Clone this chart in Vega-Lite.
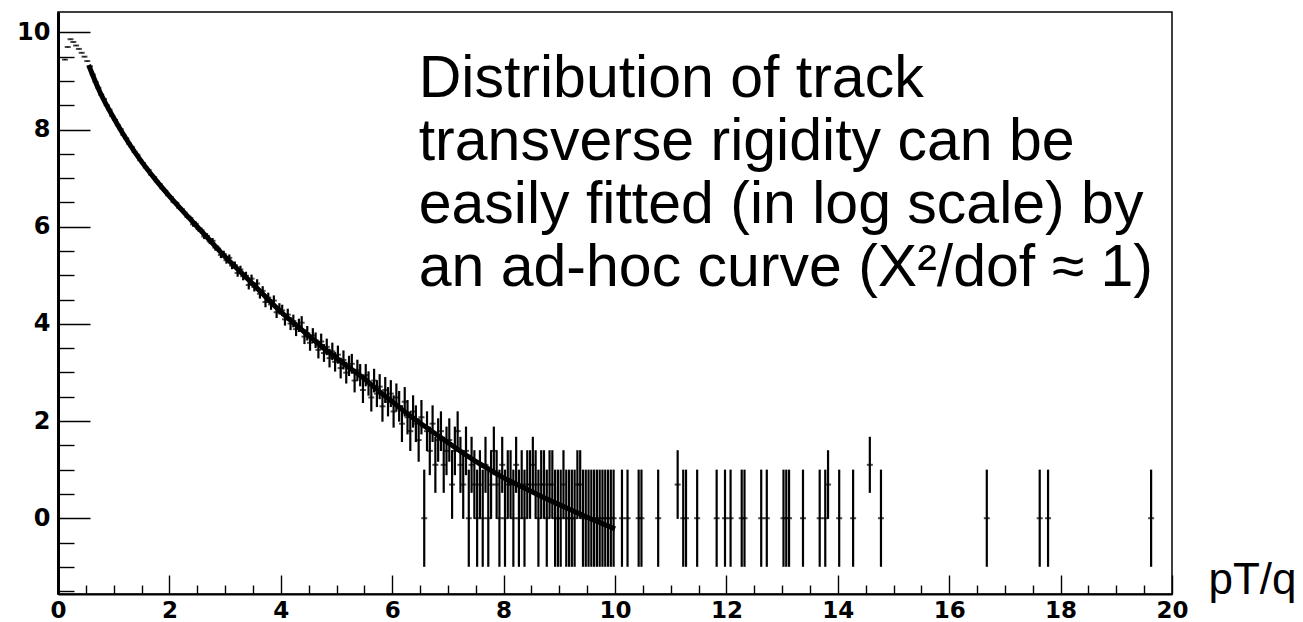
{
  "$schema": "https://vega.github.io/schema/vega-lite/v6.json",
  "width": 1114,
  "height": 582,
  "autosize": {"type": "none"},
  "padding": {"left": 58, "top": 12, "right": 131, "bottom": 28},
  "background": "white",
  "config": {
    "view": {"stroke": "black", "strokeWidth": 1.5},
    "font": "Liberation Sans",
    "axis": {"grid": false, "tickColor": "black", "tickWidth": 1.4, "domainColor": "black", "labelColor": "black"}
  },
  "resolve": {"axis": {"x": "independent", "y": "independent"}},
  "datasets": {
    "hist": [
      {"x":0.125,"y":9.44,"e":0.009},{"x":0.175,"y":9.70,"e":0.008},{"x":0.225,"y":9.86,"e":0.007},
      {"x":0.275,"y":9.80,"e":0.007},{"x":0.325,"y":9.73,"e":0.008},{"x":0.375,"y":9.66,"e":0.008},
      {"x":0.425,"y":9.58,"e":0.008},{"x":0.475,"y":9.50,"e":0.009},{"x":0.525,"y":9.41,"e":0.009},
      {"x":0.575,"y":9.30,"e":0.010},{"x":0.625,"y":9.13,"e":0.010},{"x":0.675,"y":8.98,"e":0.011},
      {"x":0.725,"y":8.86,"e":0.012},{"x":0.775,"y":8.72,"e":0.013},{"x":0.825,"y":8.63,"e":0.013},
      {"x":0.875,"y":8.50,"e":0.014},{"x":0.925,"y":8.41,"e":0.015},{"x":0.975,"y":8.28,"e":0.016},
      {"x":1.025,"y":8.20,"e":0.017},{"x":1.075,"y":8.09,"e":0.018},{"x":1.125,"y":8.01,"e":0.018},
      {"x":1.175,"y":7.89,"e":0.019},{"x":1.225,"y":7.82,"e":0.020},{"x":1.275,"y":7.71,"e":0.021},
      {"x":1.325,"y":7.64,"e":0.022},{"x":1.375,"y":7.54,"e":0.023},{"x":1.425,"y":7.48,"e":0.024},
      {"x":1.475,"y":7.37,"e":0.025},{"x":1.525,"y":7.31,"e":0.026},{"x":1.575,"y":7.22,"e":0.027},
      {"x":1.625,"y":7.17,"e":0.028},{"x":1.675,"y":7.07,"e":0.029},{"x":1.725,"y":7.02,"e":0.030},
      {"x":1.775,"y":6.93,"e":0.031},{"x":1.825,"y":6.88,"e":0.032},{"x":1.875,"y":6.79,"e":0.034},
      {"x":1.925,"y":6.74,"e":0.034},{"x":1.975,"y":6.65,"e":0.036},{"x":2.025,"y":6.61,"e":0.037},
      {"x":2.075,"y":6.51,"e":0.039},{"x":2.125,"y":6.49,"e":0.039},{"x":2.175,"y":6.39,"e":0.041},
      {"x":2.225,"y":6.36,"e":0.042},{"x":2.275,"y":6.29,"e":0.043},{"x":2.325,"y":6.20,"e":0.045},
      {"x":2.375,"y":6.18,"e":0.046},{"x":2.425,"y":6.05,"e":0.049},{"x":2.475,"y":6.06,"e":0.048},
      {"x":2.525,"y":5.95,"e":0.051},{"x":2.575,"y":5.93,"e":0.052},{"x":2.625,"y":5.80,"e":0.055},
      {"x":2.675,"y":5.81,"e":0.055},{"x":2.725,"y":5.70,"e":0.058},{"x":2.775,"y":5.71,"e":0.058},
      {"x":2.825,"y":5.57,"e":0.062},{"x":2.875,"y":5.55,"e":0.062},{"x":2.925,"y":5.42,"e":0.067},
      {"x":2.975,"y":5.44,"e":0.066},{"x":3.025,"y":5.31,"e":0.070},{"x":3.075,"y":5.36,"e":0.069},
      {"x":3.125,"y":5.20,"e":0.074},{"x":3.175,"y":5.21,"e":0.074},{"x":3.225,"y":5.05,"e":0.080},
      {"x":3.275,"y":5.12,"e":0.077},{"x":3.325,"y":4.98,"e":0.083},{"x":3.375,"y":4.99,"e":0.083},
      {"x":3.425,"y":4.80,"e":0.091},{"x":3.475,"y":4.93,"e":0.085},{"x":3.525,"y":4.76,"e":0.093},
      {"x":3.575,"y":4.83,"e":0.089},{"x":3.625,"y":4.62,"e":0.099},{"x":3.675,"y":4.68,"e":0.096},
      {"x":3.725,"y":4.45,"e":0.108},{"x":3.775,"y":4.54,"e":0.103},{"x":3.825,"y":4.40,"e":0.111},
      {"x":3.875,"y":4.48,"e":0.106},{"x":3.925,"y":4.24,"e":0.120},{"x":3.975,"y":4.31,"e":0.116},
      {"x":4.025,"y":4.277,"e":0.118},{"x":4.075,"y":4.094,"e":0.129},{"x":4.125,"y":4.190,"e":0.123},
      {"x":4.175,"y":4.007,"e":0.135},{"x":4.225,"y":4.060,"e":0.131},{"x":4.275,"y":3.892,"e":0.143},
      {"x":4.325,"y":3.970,"e":0.137},{"x":4.375,"y":4.025,"e":0.134},{"x":4.425,"y":3.738,"e":0.154},
      {"x":4.475,"y":3.807,"e":0.149},{"x":4.525,"y":3.611,"e":0.164},{"x":4.575,"y":3.761,"e":0.152},
      {"x":4.625,"y":3.664,"e":0.160},{"x":4.675,"y":3.466,"e":0.177},{"x":4.725,"y":3.638,"e":0.162},
      {"x":4.775,"y":3.401,"e":0.183},{"x":4.825,"y":3.526,"e":0.171},{"x":4.875,"y":3.296,"e":0.192},
      {"x":4.925,"y":3.434,"e":0.180},{"x":4.975,"y":3.219,"e":0.200},{"x":5.025,"y":3.367,"e":0.186},
      {"x":5.075,"y":3.091,"e":0.213},{"x":5.125,"y":3.258,"e":0.196},{"x":5.175,"y":2.996,"e":0.224},
      {"x":5.225,"y":3.135,"e":0.209},{"x":5.275,"y":3.178,"e":0.204},{"x":5.325,"y":2.833,"e":0.243},
      {"x":5.375,"y":3.045,"e":0.218},{"x":5.425,"y":2.944,"e":0.229},{"x":5.475,"y":2.639,"e":0.267},
      {"x":5.525,"y":2.944,"e":0.229},{"x":5.575,"y":2.773,"e":0.250},{"x":5.625,"y":2.485,"e":0.289},
      {"x":5.675,"y":2.833,"e":0.243},{"x":5.725,"y":2.565,"e":0.277},{"x":5.775,"y":2.708,"e":0.258},
      {"x":5.825,"y":2.303,"e":0.316},{"x":5.875,"y":2.639,"e":0.267},{"x":5.925,"y":2.398,"e":0.302},
      {"x":5.975,"y":2.565,"e":0.277},{"x":6.025,"y":2.197,"e":0.333},{"x":6.075,"y":2.485,"e":0.289},
      {"x":6.125,"y":2.303,"e":0.316},{"x":6.175,"y":1.946,"e":0.378},{"x":6.225,"y":2.398,"e":0.302},
      {"x":6.275,"y":2.079,"e":0.354},{"x":6.325,"y":1.792,"e":0.408},{"x":6.375,"y":2.197,"e":0.333},
      {"x":6.425,"y":1.946,"e":0.378},{"x":6.475,"y":1.609,"e":0.447},{"x":6.525,"y":2.079,"e":0.354},
      {"x":6.575,"y":0,"e":1},{"x":6.625,"y":1.792,"e":0.408},{"x":6.675,"y":1.386,"e":0.5},
      {"x":6.725,"y":1.946,"e":0.378},{"x":6.775,"y":1.099,"e":0.577},{"x":6.825,"y":1.609,"e":0.447},
      {"x":6.875,"y":1.792,"e":0.408},{"x":6.925,"y":1.099,"e":0.577},{"x":6.975,"y":1.386,"e":0.5},
      {"x":7.025,"y":1.609,"e":0.447},{"x":7.075,"y":0.693,"e":0.707},{"x":7.125,"y":1.386,"e":0.5},
      {"x":7.175,"y":1.792,"e":0.408},{"x":7.225,"y":1.099,"e":0.577},{"x":7.275,"y":0.693,"e":0.707},
      {"x":7.325,"y":1.386,"e":0.5},{"x":7.375,"y":0,"e":1},{"x":7.425,"y":1.099,"e":0.577},
      {"x":7.475,"y":0.693,"e":0.707},{"x":7.525,"y":0,"e":1},{"x":7.575,"y":0.693,"e":0.707},
      {"x":7.625,"y":0,"e":1},{"x":7.675,"y":1.099,"e":0.577},{"x":7.725,"y":0,"e":1},
      {"x":7.775,"y":0.693,"e":0.707},{"x":7.825,"y":1.386,"e":0.5},{"x":7.875,"y":0.693,"e":0.707},
      {"x":7.925,"y":0,"e":1},{"x":7.975,"y":1.099,"e":0.577},{"x":8.025,"y":0,"e":1},
      {"x":8.075,"y":0.693,"e":0.707},{"x":8.125,"y":0.693,"e":0.707},{"x":8.175,"y":0,"e":1},
      {"x":8.225,"y":1.099,"e":0.577},{"x":8.275,"y":0,"e":1},{"x":8.325,"y":0.693,"e":0.707},
      {"x":8.375,"y":0,"e":1},{"x":8.425,"y":0.693,"e":0.707},{"x":8.475,"y":0.693,"e":0.707},
      {"x":8.525,"y":1.099,"e":0.577},{"x":8.575,"y":0.693,"e":0.707},{"x":8.625,"y":0,"e":1},
      {"x":8.675,"y":0.693,"e":0.707},{"x":8.725,"y":0.693,"e":0.707},{"x":8.775,"y":0,"e":1},
      {"x":8.825,"y":0.693,"e":0.707},{"x":8.875,"y":0.693,"e":0.707},{"x":8.925,"y":0,"e":1},
      {"x":8.975,"y":0,"e":1},{"x":9.025,"y":0,"e":1},{"x":9.075,"y":0.693,"e":0.707},
      {"x":9.125,"y":0,"e":1},{"x":9.175,"y":0,"e":1},{"x":9.225,"y":0,"e":1},
      {"x":9.275,"y":0,"e":1},{"x":9.325,"y":0.693,"e":0.707},{"x":9.375,"y":0.693,"e":0.707},
      {"x":9.425,"y":0,"e":1},{"x":9.475,"y":0,"e":1},{"x":9.525,"y":0,"e":1},
      {"x":9.575,"y":0,"e":1},{"x":9.625,"y":0,"e":1},{"x":9.675,"y":0,"e":1},
      {"x":9.725,"y":0,"e":1},{"x":9.775,"y":0,"e":1},{"x":9.825,"y":0,"e":1},
      {"x":9.875,"y":0,"e":1},{"x":9.925,"y":0,"e":1},{"x":9.975,"y":0,"e":1},
      {"x":10.125,"y":0,"e":1},{"x":10.225,"y":0,"e":1},{"x":10.425,"y":0,"e":1},
      {"x":10.475,"y":0,"e":1},{"x":10.775,"y":0,"e":1},{"x":11.125,"y":0.693,"e":0.707},
      {"x":11.225,"y":0,"e":1},{"x":11.275,"y":0,"e":1},{"x":11.475,"y":0,"e":1},
      {"x":11.825,"y":0,"e":1},{"x":11.975,"y":0,"e":1},{"x":12.075,"y":0,"e":1},
      {"x":12.275,"y":0,"e":1},{"x":12.325,"y":0,"e":1},{"x":12.625,"y":0,"e":1},
      {"x":12.725,"y":0,"e":1},{"x":13.025,"y":0,"e":1},{"x":13.075,"y":0,"e":1},
      {"x":13.125,"y":0,"e":1},{"x":13.375,"y":0,"e":1},{"x":13.675,"y":0,"e":1},
      {"x":13.775,"y":0,"e":1},{"x":13.825,"y":0.693,"e":0.707},{"x":14.025,"y":0,"e":1},
      {"x":14.275,"y":0,"e":1},{"x":14.575,"y":1.099,"e":0.577},{"x":14.775,"y":0,"e":1},
      {"x":16.675,"y":0,"e":1},{"x":17.625,"y":0,"e":1},{"x":17.775,"y":0,"e":1},
      {"x":19.625,"y":0,"e":1}
    ],
    "fit": [
      {"x":0.55,"y":9.33},{"x":0.75,"y":8.78},{"x":1.0,"y":8.24},{"x":1.25,"y":7.76},
      {"x":1.5,"y":7.34},{"x":1.75,"y":6.97},{"x":2.0,"y":6.63},{"x":2.25,"y":6.31},
      {"x":2.5,"y":6.0},{"x":2.75,"y":5.69},{"x":3.0,"y":5.38},{"x":3.25,"y":5.1},
      {"x":3.5,"y":4.82},{"x":3.75,"y":4.53},{"x":4.0,"y":4.25},{"x":4.25,"y":4.0},
      {"x":4.5,"y":3.76},{"x":4.75,"y":3.52},{"x":5.0,"y":3.3},{"x":5.25,"y":3.08},
      {"x":5.5,"y":2.87},{"x":5.75,"y":2.63},{"x":6.0,"y":2.4},{"x":6.25,"y":2.17},
      {"x":6.5,"y":1.96},{"x":6.75,"y":1.76},{"x":7.0,"y":1.56},{"x":7.25,"y":1.36},
      {"x":7.5,"y":1.17},{"x":7.75,"y":1.0},{"x":8.0,"y":0.83},{"x":8.25,"y":0.69},
      {"x":8.5,"y":0.55},{"x":8.75,"y":0.41},{"x":9.0,"y":0.28},{"x":9.25,"y":0.15},
      {"x":9.5,"y":0.02},{"x":9.75,"y":-0.1},{"x":10.0,"y":-0.22}
    ]
  },
  "layer": [
    {
      "data": {"name": "hist"},
      "mark": {"type": "errorbar", "ticks": false, "thickness": 2.2, "color": "black"},
      "encoding": {
        "x": {
          "field": "x", "type": "quantitative",
          "scale": {"domain": [0, 20], "nice": false, "zero": false},
          "axis": {
            "orient": "bottom",
            "title": "pT/q",
            "titleX": 1150, "titleY": -1, "titleAlign": "left", "titleBaseline": "alphabetic", "titleAngle": 0,
            "titleFont": "Liberation Sans", "titleFontSize": 44, "titleFontWeight": "normal", "titleColor": "black",
            "values": [0,2,4,6,8,10,12,14,16,18,20],
            "format": "d",
            "labelFont": "DejaVu Sans", "labelFontWeight": "bold", "labelFontSize": 23,
            "labelFlush": false, "labelOverlap": false, "labelBaseline": "alphabetic",
            "ticks": false, "labelPadding": 23,
            "domainWidth": 2.2
          }
        },
        "y": {
          "field": "y", "type": "quantitative",
          "scale": {"domain": [-1.56, 10.42], "nice": false, "zero": false},
          "axis": {
            "orient": "left",
            "title": null,
            "values": [0,2,4,6,8,10],
            "format": "d",
            "labelFont": "DejaVu Sans", "labelFontWeight": "bold", "labelFontSize": 24,
            "labelFlush": false, "labelOverlap": false,
            "ticks": false, "labelPadding": 8,
            "domainWidth": 3
          }
        },
        "yError": {"field": "e"}
      }
    },
    {
      "data": {"name": "hist"},
      "mark": {"type": "tick", "orient": "horizontal", "size": 6, "thickness": 2, "color": "black"},
      "encoding": {
        "x": {
          "field": "x", "type": "quantitative",
          "axis": {"orient": "bottom", "title": null, "values": [0,2,4,6,8,10,12,14,16,18,20], "labels": false, "domain": false, "tickSize": -19}
        },
        "y": {
          "field": "y", "type": "quantitative",
          "axis": {"orient": "left", "title": null, "values": [0,2,4,6,8,10], "labels": false, "domain": false, "tickSize": -32}
        }
      }
    },
    {
      "data": {"name": "fit"},
      "mark": {"type": "line", "color": "black", "strokeWidth": 5, "interpolate": "monotone"},
      "encoding": {
        "x": {
          "field": "x", "type": "quantitative",
          "axis": {"orient": "bottom", "title": null, "labels": false, "domain": false, "tickSize": -9,
            "values": [0.5,1,1.5,2.5,3,3.5,4.5,5,5.5,6.5,7,7.5,8.5,9,9.5,10.5,11,11.5,12.5,13,13.5,14.5,15,15.5,16.5,17,17.5,18.5,19,19.5]}
        },
        "y": {
          "field": "y", "type": "quantitative",
          "axis": {"orient": "left", "title": null, "labels": false, "domain": false, "tickSize": -16,
            "values": [-1.5,-1,-0.5,0.5,1,1.5,2.5,3,3.5,4.5,5,5.5,6.5,7,7.5,8.5,9,9.5]}
        }
      }
    },
    {
      "data": {"values": [{}]},
      "mark": {
        "type": "text",
        "text": ["Distribution of track", "transverse rigidity can be", "easily fitted (in log scale) by", "an ad-hoc curve (X²/dof ≈ 1)"],
        "font": "Liberation Sans",
        "fontSize": 59, "lineHeight": 63, "align": "left", "baseline": "alphabetic", "color": "black"
      },
      "encoding": {
        "x": {"datum": 6.476, "type": "quantitative", "axis": null},
        "y": {"datum": 8.665, "type": "quantitative", "axis": null}
      }
    }
  ]
}
